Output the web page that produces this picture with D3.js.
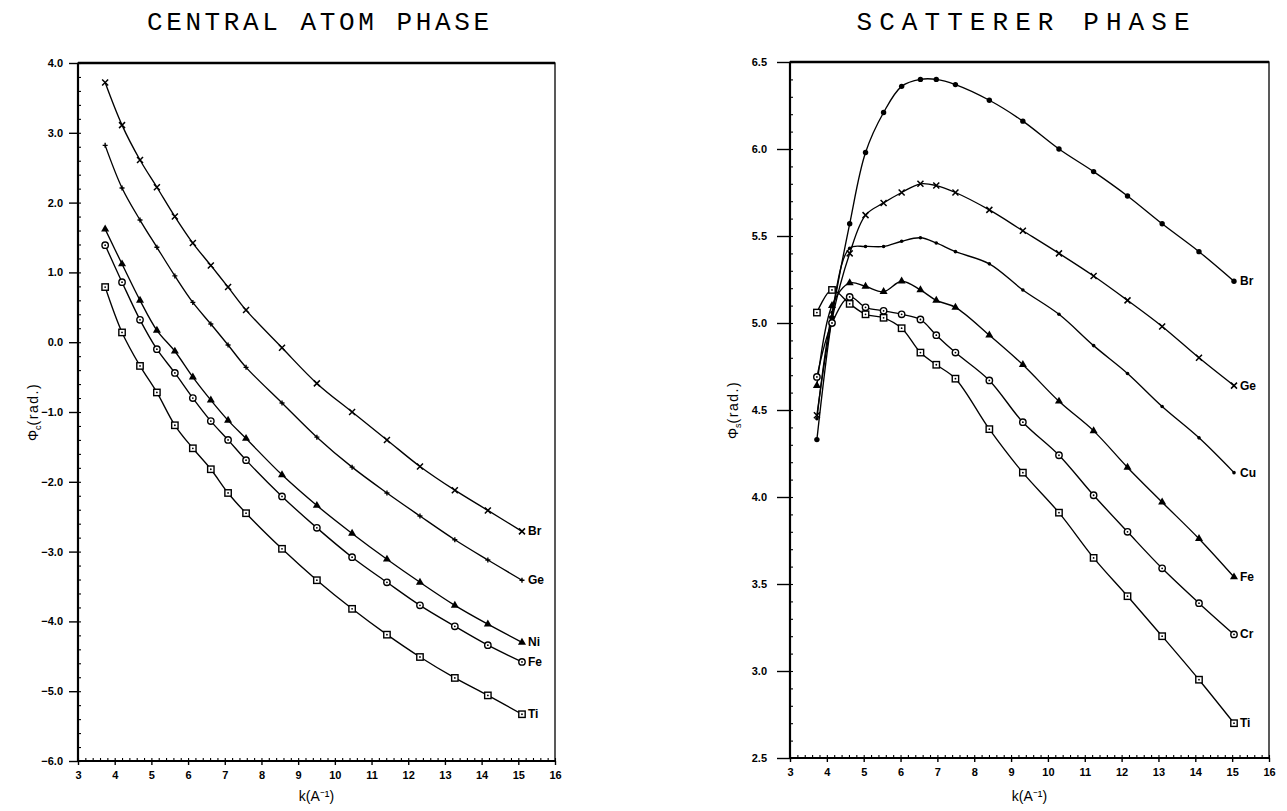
<!DOCTYPE html>
<html>
<head>
<meta charset="utf-8">
<script src="https://cdn.jsdelivr.net/npm/d3@7"></script>
<style>
  html, body { margin: 0; padding: 0; background: #fff; }
  svg { display: block; }
  .tick-lab { font-family: "Liberation Sans", Arial, sans-serif; font-weight: bold; font-size: 11px; fill: #000; }
  .ser-lab { font-family: "Liberation Sans", Arial, sans-serif; font-weight: bold; font-size: 12px; fill: #000; }
  .title { font-family: "Liberation Mono", "DejaVu Sans Mono", monospace; font-size: 26px; fill: #000; }
  .axis-title { font-family: "Liberation Sans", Arial, sans-serif; font-size: 14px; fill: #000; }
</style>
</head>
<body>
<svg id="chart" width="1287" height="811"></svg>
<script>
// ---------------- DATA ----------------
// Central atom phase (left panel)
const kCentral = [3.74, 4.2, 4.69, 5.15, 5.64, 6.13, 6.62, 7.09, 7.58, 8.56, 9.51, 10.47, 11.42, 12.32, 13.27, 14.17, 15.1];
const brCentral = [3.72, 3.11, 2.61, 2.22, 1.80, 1.42, 1.10, 0.79, 0.46, -0.08, -0.59, -1.00, -1.40, -1.78, -2.12, -2.41, -2.71];
const geCentral = [2.82, 2.21, 1.75, 1.36, 0.95, 0.57, 0.26, -0.04, -0.36, -0.87, -1.36, -1.79, -2.16, -2.49, -2.83, -3.12, -3.41];
const niCentral = [1.62, 1.12, 0.60, 0.17, -0.13, -0.50, -0.83, -1.12, -1.38, -1.90, -2.34, -2.74, -3.11, -3.44, -3.77, -4.04, -4.30];
const feCentral = [1.39, 0.86, 0.32, -0.10, -0.44, -0.80, -1.13, -1.40, -1.69, -2.21, -2.66, -3.08, -3.44, -3.77, -4.07, -4.34, -4.58];
const tiCentral = [0.79, 0.14, -0.34, -0.72, -1.19, -1.52, -1.82, -2.16, -2.45, -2.96, -3.41, -3.82, -4.19, -4.51, -4.81, -5.06, -5.33];
const centralNames = ["Br", "Ge", "Ni", "Fe", "Ti"];

// Scatterer phase (right panel)
const kScatter = [3.73, 4.14, 4.62, 5.05, 5.54, 6.03, 6.54, 6.97, 7.49, 8.41, 9.32, 10.30, 11.24, 12.16, 13.10, 14.10, 15.05];
const brScatter = [4.33, 5.03, 5.57, 5.98, 6.21, 6.36, 6.40, 6.40, 6.37, 6.28, 6.16, 6.00, 5.87, 5.73, 5.57, 5.41, 5.24];
const geScatter = [4.47, 5.02, 5.40, 5.62, 5.69, 5.75, 5.80, 5.79, 5.75, 5.65, 5.53, 5.40, 5.27, 5.13, 4.98, 4.80, 4.64];
const cuScatter = [4.45, 5.06, 5.43, 5.44, 5.44, 5.47, 5.49, 5.46, 5.41, 5.34, 5.19, 5.05, 4.87, 4.71, 4.52, 4.34, 4.14];
const feScatter = [4.64, 5.10, 5.23, 5.21, 5.18, 5.24, 5.19, 5.13, 5.09, 4.93, 4.76, 4.55, 4.38, 4.17, 3.97, 3.76, 3.54];
const crScatter = [4.69, 5.00, 5.15, 5.09, 5.07, 5.05, 5.02, 4.93, 4.83, 4.67, 4.43, 4.24, 4.01, 3.80, 3.59, 3.39, 3.21];
const tiScatter = [5.06, 5.19, 5.11, 5.05, 5.03, 4.97, 4.83, 4.76, 4.68, 4.39, 4.14, 3.91, 3.65, 3.43, 3.20, 2.95, 2.70];
const scatterNames = ["Br", "Ge", "Cu", "Fe", "Cr", "Ti"];

// Tick labels
const xTicks = [3, 4, 5, 6, 7, 8, 9, 10, 11, 12, 13, 14, 15, 16];
const yTicksCentral = [4, 3, 2, 1, 0, -1, -2, -3, -4, -5, -6];
const yTicksScatter = [6.5, 6.0, 5.5, 5.0, 4.5, 4.0, 3.5, 3.0, 2.5];
const titleCentral = "CENTRAL ATOM PHASE";
const titleScatter = "SCATTERER PHASE";
const xTitle = "k(A⁻¹)";

// ---------------- DRAWING ----------------
const svg = d3.select("#chart");

function marker(g, type, x, y) {
  if (type === "x") {
    g.append("path").attr("d", `M${x-3},${y-3}L${x+3},${y+3}M${x-3},${y+3}L${x+3},${y-3}`)
      .attr("stroke", "#000").attr("stroke-width", 1.5).attr("fill", "none");
  } else if (type === "plus") {
    g.append("path").attr("d", `M${x-2.5},${y}L${x+2.5},${y}M${x},${y-2.5}L${x},${y+2.5}`)
      .attr("stroke", "#000").attr("stroke-width", 1.4).attr("fill", "none");
  } else if (type === "tri") {
    g.append("path").attr("d", d3.symbol().type(d3.symbolTriangle).size(28)())
      .attr("transform", `translate(${x},${y})`).attr("fill", "#000");
  } else if (type === "circ") {
    g.append("circle").attr("cx", x).attr("cy", y).attr("r", 3.2)
      .attr("fill", "#fff").attr("stroke", "#000").attr("stroke-width", 1.4);
    g.append("circle").attr("cx", x).attr("cy", y).attr("r", 0.9).attr("fill", "#000");
  } else if (type === "sq") {
    g.append("rect").attr("x", x-3.2).attr("y", y-3.2).attr("width", 6.4).attr("height", 6.4)
      .attr("fill", "#fff").attr("stroke", "#000").attr("stroke-width", 1.4);
    g.append("circle").attr("cx", x).attr("cy", y).attr("r", 0.9).attr("fill", "#000");
  } else if (type === "dot") {
    g.append("circle").attr("cx", x).attr("cy", y).attr("r", 2.7).attr("fill", "#000");
  } else if (type === "sdot") {
    g.append("circle").attr("cx", x).attr("cy", y).attr("r", 1.8).attr("fill", "#000");
  }
}

function panel(opts) {
  const { x0, x1, yTop, yBot, yDomain, yTicks, yMinorStep, yFmt, ks, series, names, markers,
          title, titleX, titleLen, yTitleX, ySub, yTickSize, yPad } = opts;
  const g = svg.append("g");
  const x = d3.scaleLinear().domain([3, 16]).range([x0, x1]);
  const y = d3.scaleLinear().domain(yDomain).range([yBot, yTop]);

  // frame
  g.append("rect").attr("x", x0).attr("y", yTop).attr("width", x1 - x0).attr("height", yBot - yTop)
    .attr("fill", "none").attr("stroke", "#000").attr("stroke-width", 1.3);
  g.append("line").attr("x1", x0).attr("x2", x1).attr("y1", yTop).attr("y2", yTop)
    .attr("stroke", "#000").attr("stroke-width", 2.4);
  g.append("line").attr("x1", x0).attr("x2", x0).attr("y1", yTop).attr("y2", yBot)
    .attr("stroke", "#000").attr("stroke-width", 2.2);
  g.append("line").attr("x1", x0).attr("x2", x1).attr("y1", yBot).attr("y2", yBot)
    .attr("stroke", "#000").attr("stroke-width", 2.2);

  // minor ticks (inward)
  const yMin = d3.min(yDomain), yMax = d3.max(yDomain);
  const yMinor = d3.range(Math.round((yMax - yMin) / yMinorStep) + 1).map(i => yMin + i * yMinorStep);
  const yMinorAxis = d3.axisRight(y).tickValues(yMinor).tickSize(3).tickFormat("");
  g.append("g").attr("transform", `translate(${x0},0)`).call(yMinorAxis)
    .call(s => s.select(".domain").remove()).selectAll("line").attr("stroke-width", 1.1);
  const xMinor = d3.range(66).map(i => 3 + i * 0.2);
  const xMinorAxis = d3.axisTop(x).tickValues(xMinor).tickSize(3).tickFormat("");
  g.append("g").attr("transform", `translate(0,${yBot})`).call(xMinorAxis)
    .call(s => s.select(".domain").remove()).selectAll("line").attr("stroke-width", 1.1);

  // major ticks (outward) and labels
  const yAxis = d3.axisLeft(y).tickValues(yTicks).tickSize(yTickSize).tickPadding(yPad).tickFormat(yFmt);
  const ya = g.append("g").attr("transform", `translate(${x0},0)`).call(yAxis);
  ya.select(".domain").remove();
  ya.selectAll("line").attr("stroke-width", 1.4);
  ya.selectAll("text").attr("class", "tick-lab").attr("font-family", null).attr("font-size", null);
  const xAxis = d3.axisBottom(x).tickValues(xTicks).tickSize(4).tickPadding(6).tickFormat(d3.format("d"));
  const xa = g.append("g").attr("transform", `translate(0,${yBot})`).call(xAxis);
  xa.select(".domain").remove();
  xa.selectAll("line").attr("stroke-width", 1.4);
  xa.selectAll("text").attr("class", "tick-lab").attr("font-family", null).attr("font-size", null);

  // titles
  g.append("text").attr("class", "title").attr("x", titleX).attr("y", 30)
    .attr("text-anchor", "middle").attr("textLength", titleLen).attr("lengthAdjust", "spacing").text(title);
  g.append("text").attr("class", "axis-title").attr("x", (x0 + x1) / 2).attr("y", 801)
    .attr("text-anchor", "middle").text(xTitle);
  const yt = g.append("text").attr("class", "axis-title")
    .attr("transform", `translate(${yTitleX},${(yTop + yBot) / 2}) rotate(-90)`).attr("text-anchor", "middle");
  yt.append("tspan").text("Φ");
  yt.append("tspan").attr("font-size", "9px").attr("dy", "3").text(ySub);
  yt.append("tspan").attr("dy", "-3").attr("letter-spacing", "1.5").text("(rad.)");

  // lines & markers
  const line = d3.line().x(d => x(d[0])).y(d => y(d[1])).curve(d3.curveCatmullRom.alpha(0.5));
  series.forEach((vals, si) => {
    const pts = ks.map((k, i) => [k, vals[i]]);
    g.append("path").attr("d", line(pts)).attr("fill", "none").attr("stroke", "#000").attr("stroke-width", 1.35);
    pts.forEach(p => marker(g, markers[si], x(p[0]), y(p[1])));
    const last = pts[pts.length - 1];
    g.append("text").attr("class", "ser-lab").attr("x", x(last[0]) + 6).attr("y", y(last[1]) + 4).text(names[si]);
  });
}

panel({
  x0: 78, x1: 555, yTop: 63, yBot: 761, yDomain: [-6, 4], yTicks: yTicksCentral, yMinorStep: 0.2,
  yFmt: d3.format(".1f"), ks: kCentral,
  series: [brCentral, geCentral, niCentral, feCentral, tiCentral], names: centralNames,
  markers: ["x", "plus", "tri", "circ", "sq"],
  title: titleCentral, titleX: 318, titleLen: 342, yTitleX: 38, ySub: "c", yTickSize: 9, yPad: 6
});

panel({
  x0: 790, x1: 1269, yTop: 62, yBot: 758, yDomain: [2.5, 6.5], yTicks: yTicksScatter, yMinorStep: 0.1,
  yFmt: d3.format(".1f"), ks: kScatter,
  series: [brScatter, geScatter, cuScatter, feScatter, crScatter, tiScatter], names: scatterNames,
  markers: ["dot", "x", "sdot", "tri", "circ", "sq"],
  title: titleScatter, titleX: 1023, titleLen: 333, yTitleX: 738, ySub: "s", yTickSize: 13, yPad: 10
});
</script>
</body>
</html>
